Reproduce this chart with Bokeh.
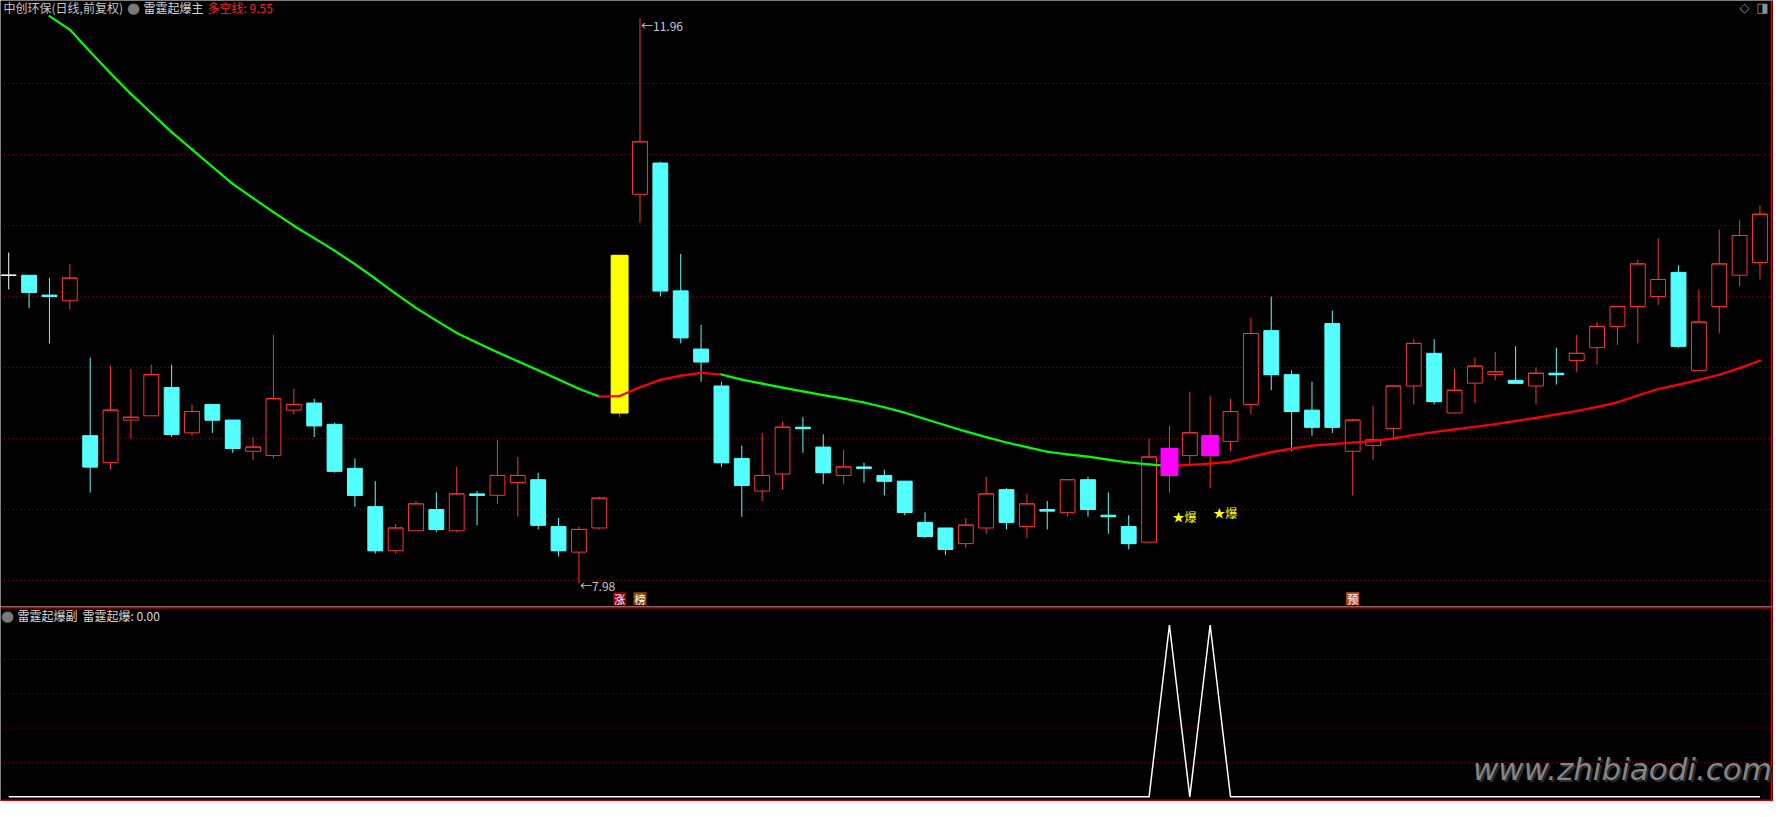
import numpy as np
from bokeh.plotting import figure
from bokeh.models import Range1d, Span, Label
from bokeh.layouts import column
from bokeh.core.properties import value
from bokeh.embed import file_html
from bokeh.resources import INLINE

# ---------------- data ----------------
opens = [10.15, 10.15, 10.01, 9.97, 9.02, 8.83, 9.13, 9.16, 9.36, 9.04,
         9.24, 9.13, 8.91, 8.88, 9.20, 9.25, 9.10, 8.79, 8.52, 8.21,
         8.35, 8.50, 8.35, 8.61, 8.60, 8.69, 8.71, 8.38, 8.20, 8.37,
         9.18, 10.72, 10.94, 10.04, 9.63, 9.37, 8.86, 8.63, 8.75, 9.08,
         8.94, 8.74, 8.80, 8.74, 8.70, 8.41, 8.37, 8.26, 8.37, 8.64,
         8.38, 8.50, 8.48, 8.71, 8.46, 8.38, 8.27, 8.74, 8.88, 8.88,
         8.98, 9.24, 9.76, 9.45, 9.20, 9.81, 8.91, 8.95, 9.07, 9.37,
         9.60, 9.18, 9.39, 9.45, 9.41, 9.37, 9.46, 9.55, 9.64, 9.79,
         9.93, 10.00, 10.17, 9.48, 9.93, 10.15, 10.24]
highs = [10.31, 10.15, 10.13, 10.23, 9.57, 9.51, 9.49, 9.52, 9.52, 9.24,
         9.24, 9.13, 9.01, 9.73, 9.35, 9.28, 9.11, 8.86, 8.70, 8.40,
         8.56, 8.62, 8.80, 8.63, 8.99, 8.87, 8.76, 8.44, 8.38, 8.59,
         10.29, 11.96, 10.95, 10.30, 9.80, 9.40, 8.95, 9.04, 9.12, 9.15,
         9.03, 8.92, 8.83, 8.78, 8.70, 8.48, 8.37, 8.44, 8.73, 8.65,
         8.61, 8.56, 8.71, 8.73, 8.62, 8.46, 9.00, 9.09, 9.33, 9.30,
         9.28, 9.85, 10.00, 9.48, 9.40, 9.90, 9.14, 9.23, 9.37, 9.70,
         9.70, 9.49, 9.57, 9.61, 9.65, 9.50, 9.64, 9.73, 9.82, 9.93,
         10.26, 10.41, 10.22, 10.05, 10.47, 10.54, 10.64]
lows = [10.05, 9.92, 9.67, 9.91, 8.62, 8.78, 9.00, 9.16, 9.01, 9.02,
        9.04, 8.90, 8.85, 8.86, 9.17, 9.01, 8.76, 8.52, 8.19, 8.19,
        8.35, 8.34, 8.34, 8.39, 8.54, 8.45, 8.36, 8.17, 7.98, 8.36,
        9.15, 10.52, 10.00, 9.67, 9.40, 8.80, 8.45, 8.56, 8.64, 8.90,
        8.68, 8.68, 8.69, 8.60, 8.46, 8.30, 8.18, 8.23, 8.33, 8.36,
        8.30, 8.36, 8.45, 8.45, 8.33, 8.22, 8.27, 8.62, 8.82, 8.65,
        8.91, 9.17, 9.34, 8.91, 9.02, 9.04, 8.60, 8.85, 8.99, 9.24,
        9.24, 9.18, 9.25, 9.41, 9.39, 9.24, 9.38, 9.47, 9.52, 9.66,
        9.67, 9.94, 9.64, 9.48, 9.74, 10.07, 10.12]
closes = [10.15, 10.03, 10.00, 10.13, 8.80, 9.20, 9.15, 9.45, 9.03, 9.19,
          9.13, 8.93, 8.94, 9.28, 9.24, 9.09, 8.77, 8.60, 8.21, 8.37,
          8.54, 8.36, 8.61, 8.60, 8.74, 8.74, 8.39, 8.21, 8.36, 8.58,
          10.29, 11.09, 10.04, 9.71, 9.54, 8.83, 8.67, 8.74, 9.08, 9.07,
          8.76, 8.80, 8.79, 8.70, 8.48, 8.31, 8.22, 8.39, 8.61, 8.41,
          8.54, 8.49, 8.71, 8.50, 8.45, 8.26, 8.87, 8.93, 9.04, 9.02,
          9.19, 9.74, 9.45, 9.19, 9.08, 9.08, 9.13, 8.99, 9.37, 9.67,
          9.26, 9.34, 9.51, 9.47, 9.39, 9.46, 9.45, 9.60, 9.79, 9.93,
          10.23, 10.12, 9.65, 9.82, 10.23, 10.43, 10.58]

# 多空线, for bars 2 .. 86
ma_first = 2
ma_line = [11.975, 11.880, 11.724, 11.573, 11.427, 11.293, 11.158, 11.037, 10.914, 10.794,
           10.693, 10.594, 10.499, 10.411, 10.323, 10.228, 10.127, 10.020, 9.920, 9.830,
           9.744, 9.674, 9.608, 9.544, 9.481, 9.415, 9.351, 9.296,
           9.299, 9.361, 9.413, 9.443, 9.463, 9.451, 9.415, 9.387, 9.358, 9.332,
           9.306, 9.281, 9.254, 9.220, 9.182, 9.138, 9.094, 9.050, 9.010, 8.972,
           8.939, 8.907, 8.889, 8.873, 8.851, 8.831, 8.818, 8.806, 8.815, 8.823,
           8.837, 8.871, 8.904, 8.929, 8.950, 8.961, 8.972, 8.982, 9.001, 9.025,
           9.046, 9.064, 9.083, 9.101, 9.124, 9.146, 9.170, 9.194, 9.223, 9.255,
           9.303, 9.349, 9.380, 9.413, 9.449, 9.496, 9.550]
# 1 = red segment, 0 = green segment (segment ending at that bar)
ma_trend = [0] * 28 + [1] * 6 + [0] * 22 + [1] * 29

# 雷霆起爆 (sub panel)
signal = [0] * 57 + [1, 0, 1] + [0] * 27

limit_up_idx = [30]
burst_idx = [57, 59]
burst_text_y = [8.45, 8.48]
badge_idx = [30, 31, 66]
badge_text = ["涨", "榜", "预"]

price_grid = [8.0, 8.5, 9.0, 9.5, 10.0, 10.5, 11.0, 11.5]
sub_grid = [0.2, 0.4, 0.6, 0.8]

# ---------------- styles ----------------
RED = "#ff3232"
CYAN = "#54ffff"
GRID = "#b00000"
BORDER = "#cc0000"
CJK = "Noto Sans CJK SC"
badge_fill = ["#900000", "#8a4800", "#c04a10"]

W = 1773
H1 = 606
H2 = 195
XL, XR = -0.404, 86.664
BODY_W = 0.73
MARK_W = 0.83

o = np.array(opens)
h = np.array(highs)
l = np.array(lows)
c = np.array(closes)
n = len(o)
idx = np.arange(n)

col = [RED if cc > oo else (CYAN if cc < oo else "#ffffff") for oo, cc in zip(o, c)]
fill = ["#000000" if cc > oo else (CYAN if cc < oo else "#ffffff") for oo, cc in zip(o, c)]

# ---------------- main panel ----------------
YLO, YHI = 7.817, 12.085
p = figure(width=W, height=H1, x_range=Range1d(XL, XR), y_range=Range1d(YLO, YHI),
           output_backend="svg", toolbar_location=None, title=None,
           x_axis_location=None, y_axis_location=None,
           background_fill_color="black", border_fill_color="black",
           min_border=0, outline_line_color=None)
p.grid.visible = False

for g in price_grid:
    p.add_layout(Span(location=g, dimension="width", line_color=GRID, line_width=1,
                      line_dash="1 3", level="underlay"))

# wicks and bodies
p.segment(x0=idx, y0=h, x1=idx, y1=l, line_color=col, line_width=1)
p.vbar(x=idx, width=BODY_W, top=np.maximum(o, c), bottom=np.minimum(o, c),
       fill_color=fill, line_color=col, line_width=1)
p.segment(x0=idx - BODY_W / 2, y0=c, x1=idx + BODY_W / 2, y1=c, line_color=col, line_width=1)

# limit-up stick (yellow)
lu = np.array(limit_up_idx)
p.vbar(x=lu, width=MARK_W, top=c[lu], bottom=o[lu], fill_color="#ffff00", line_color="#ffff00")

# 多空线
mx = np.arange(ma_first, n)
ma = np.array(ma_line)
tr = np.array(ma_trend)
seg_col = ["#ff0000" if t else "#00ff00" for t in tr[1:]]
p.segment(x0=mx[:-1], y0=ma[:-1], x1=mx[1:], y1=ma[1:], line_color=seg_col,
          line_width=2.2, line_cap="round")

# burst sticks (magenta)
bi = np.array(burst_idx)
p.vbar(x=bi, width=MARK_W, top=c[bi], bottom=o[bi], fill_color="#ff00ff", line_color="#ff00ff")

p.text(x=bi, y=burst_text_y, text=["★爆"] * len(bi), x_offset=3,
       text_align="left", text_baseline="middle", text_color="#ffff00",
       text_font=value(CJK), text_font_size="12px")

# badges under the bars
badge_y = [YLO + 0.055] * len(badge_idx)
p.rect(x=badge_idx, y=badge_y, width=13, height=13, width_units="screen",
       height_units="screen", fill_color=badge_fill, line_color=None)
p.text(x=badge_idx, y=badge_y, text=badge_text, text_align="center", text_baseline="middle",
       text_color="#ffffff", text_font=value(CJK), text_font_size="11px")

# extreme price marks
hi_i = int(np.argmax(h))
lo_i = int(np.argmin(l))
p.text(x=[hi_i], y=[h[hi_i]], text=["←%.2f" % h[hi_i]], x_offset=1, y_offset=-1,
       text_align="left", text_baseline="top", text_color="#c8c8c8",
       text_font=value(CJK), text_font_size="12px")
p.text(x=[lo_i], y=[l[lo_i]], text=["←%.2f" % l[lo_i]], x_offset=1, y_offset=2,
       text_align="left", text_baseline="middle", text_color="#c8c8c8",
       text_font=value(CJK), text_font_size="12px")

# right border
p.add_layout(Span(location=86.57, dimension="height", line_color=BORDER, line_width=2))

# header
hy = H1 - 7
p.add_layout(Label(x=3, y=hy, x_units="screen", y_units="screen", text="中创环保(日线,前复权)",
                   text_font=CJK, text_font_size="12px", text_color="#c8c8c8",
                   text_baseline="middle", text_align="left"))
p.add_layout(Label(x=133, y=hy, x_units="screen", y_units="screen", text="●",
                   text_font="DejaVu Sans", text_font_size="15px", text_color="#7a7a7a",
                   text_baseline="middle", text_align="center"))
p.add_layout(Label(x=133, y=hy + 1, x_units="screen", y_units="screen", text="˅",
                   text_font="DejaVu Sans", text_font_size="11px", text_color="#202020",
                   text_baseline="middle", text_align="center"))
p.add_layout(Label(x=143, y=hy, x_units="screen", y_units="screen", text="雷霆起爆主",
                   text_font=CJK, text_font_size="12px", text_color="#d8d8d8",
                   text_baseline="middle", text_align="left"))
p.add_layout(Label(x=207, y=hy, x_units="screen", y_units="screen",
                   text="多空线: %.2f" % ma[-1],
                   text_font=CJK, text_font_size="12px", text_color="#ff2020",
                   text_baseline="middle", text_align="left"))
p.add_layout(Label(x=1744, y=hy, x_units="screen", y_units="screen", text="◇",
                   text_font="DejaVu Sans", text_font_size="13px", text_color="#909090",
                   text_baseline="middle", text_align="center"))
p.add_layout(Label(x=1762, y=hy, x_units="screen", y_units="screen", text="◨",
                   text_font="DejaVu Sans", text_font_size="13px", text_color="#909090",
                   text_baseline="middle", text_align="center"))

# ---------------- sub panel ----------------
q = figure(width=W, height=H2, x_range=p.x_range, y_range=Range1d(-0.027, 1.1075),
           output_backend="svg", toolbar_location=None, title=None,
           x_axis_location=None, y_axis_location=None,
           background_fill_color="black", border_fill_color="black",
           min_border=0, outline_line_color=None)
q.grid.visible = False

for g in sub_grid:
    q.add_layout(Span(location=g, dimension="width", line_color=GRID, line_width=1,
                      line_dash="1 3", level="underlay"))

q.line(x=idx, y=signal, line_color="#ffffff", line_width=1.5)

q.add_layout(Span(location=1.101, dimension="width", line_color=BORDER, line_width=2))
q.add_layout(Span(location=-0.0215, dimension="width", line_color=BORDER, line_width=2))
q.add_layout(Span(location=86.57, dimension="height", line_color=BORDER, line_width=2))

sy = H2 - 9
q.add_layout(Label(x=7, y=sy, x_units="screen", y_units="screen", text="●",
                   text_font="DejaVu Sans", text_font_size="15px", text_color="#7a7a7a",
                   text_baseline="middle", text_align="center"))
q.add_layout(Label(x=7, y=sy + 1, x_units="screen", y_units="screen", text="˅",
                   text_font="DejaVu Sans", text_font_size="11px", text_color="#202020",
                   text_baseline="middle", text_align="center"))
q.add_layout(Label(x=17, y=sy, x_units="screen", y_units="screen", text="雷霆起爆副",
                   text_font=CJK, text_font_size="12px", text_color="#d8d8d8",
                   text_baseline="middle", text_align="left"))
q.add_layout(Label(x=82, y=sy, x_units="screen", y_units="screen",
                   text="雷霆起爆: %.2f" % signal[-1],
                   text_font=CJK, text_font_size="12px", text_color="#d8d8d8",
                   text_baseline="middle", text_align="left"))
q.add_layout(Label(x=1624, y=31, x_units="screen", y_units="screen", text="www.zhibiaodi.com",
                   text_font="DejaVu Sans", text_font_style="italic", text_font_size="31px",
                   text_color="#2a2a2a", text_baseline="middle", text_align="center"))
q.add_layout(Label(x=1622, y=33, x_units="screen", y_units="screen", text="www.zhibiaodi.com",
                   text_font="DejaVu Sans", text_font_style="italic", text_font_size="31px",
                   text_color="#858585", text_baseline="middle", text_align="center"))

layout = column(p, q, spacing=0)
open("out.html", "w", encoding="utf-8").write(file_html(layout, INLINE))
